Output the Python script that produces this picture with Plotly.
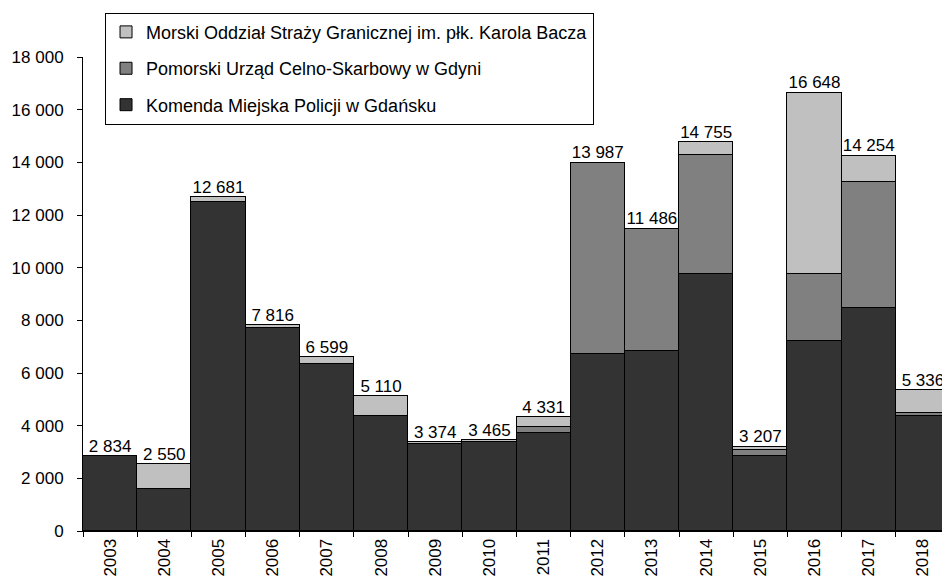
import plotly.graph_objects as go

CIEMNY = "#333333"
SREDNI = "#808080"
JASNY = "#C0C0C0"
FONT = "Liberation Sans, Arial, sans-serif"

lata = [str(r) for r in range(2003, 2019)]
policja = [2834, 1610, 12500, 7700, 6330, 4370, 3290, 3380, 3740, 6740, 6830, 9770, 2840, 7220, 8480, 4360]
urzad = [0, 0, 0, 0, 0, 0, 0, 0, 210, 7247, 4656, 4490, 230, 2550, 4780, 130]
straz = [0, 940, 181, 116, 269, 740, 84, 85, 381, 0, 0, 495, 137, 6878, 994, 846]
sumy = [2834, 2550, 12681, 7816, 6599, 5110, 3374, 3465, 4331, 13987, 11486, 14755, 3207, 16648, 14254, 5336]

serie = [
    ("Komenda Miejska Policji w Gdańsku", policja, CIEMNY),
    ("Pomorski Urząd Celno-Skarbowy w Gdyni", urzad, SREDNI),
    ("Morski Oddział Straży Granicznej im. płk. Karola Bacza", straz, JASNY),
]

fig = go.Figure()
for i, (nazwa, wart, kolor) in enumerate(serie):
    fig.add_bar(x=lata, y=wart, name=nazwa, legendgroup=str(i), legendrank=3 - i,
                marker=dict(color=kolor, line=dict(color="black", width=1)))

etykiety = [f"{v:,}".replace(",", " ") for v in sumy]
fig.add_scatter(x=lata, y=sumy, mode="text", text=etykiety, textposition="top center",
                textfont=dict(size=17, color="black", family=FONT),
                showlegend=False, cliponaxis=False, hoverinfo="skip")

# strona ma 8 px marginesu body, stąd l/t pomniejszone o 8
fig.update_layout(
    width=950, height=583, barmode="stack", bargap=0,
    paper_bgcolor="white", plot_bgcolor="white",
    font=dict(family=FONT, color="black", size=17),
    separators=", ",
    margin=dict(l=75, r=8, t=49, b=60, autoexpand=False),
    legend=dict(x=0.0254, y=1.0935, xanchor="left", yanchor="top",
                traceorder="grouped", tracegroupgap=10,
                bordercolor="black", borderwidth=1, bgcolor="white",
                font=dict(size=18, family=FONT)),
    xaxis=dict(type="category", showline=True, linecolor="black", linewidth=1,
               ticks="outside", tickson="boundaries", ticklen=5, tickcolor="black",
               tickangle=-90, showgrid=False, range=[-0.5, 15.5], automargin=False),
    yaxis=dict(range=[0, 18000], dtick=2000, tickformat=",d", showline=True,
               linecolor="black", linewidth=1, ticks="outside", ticklen=5,
               tickcolor="black", showgrid=False, zeroline=False,
               ticklabelstandoff=10, automargin=False),
)

fig.write_html("out.html")
